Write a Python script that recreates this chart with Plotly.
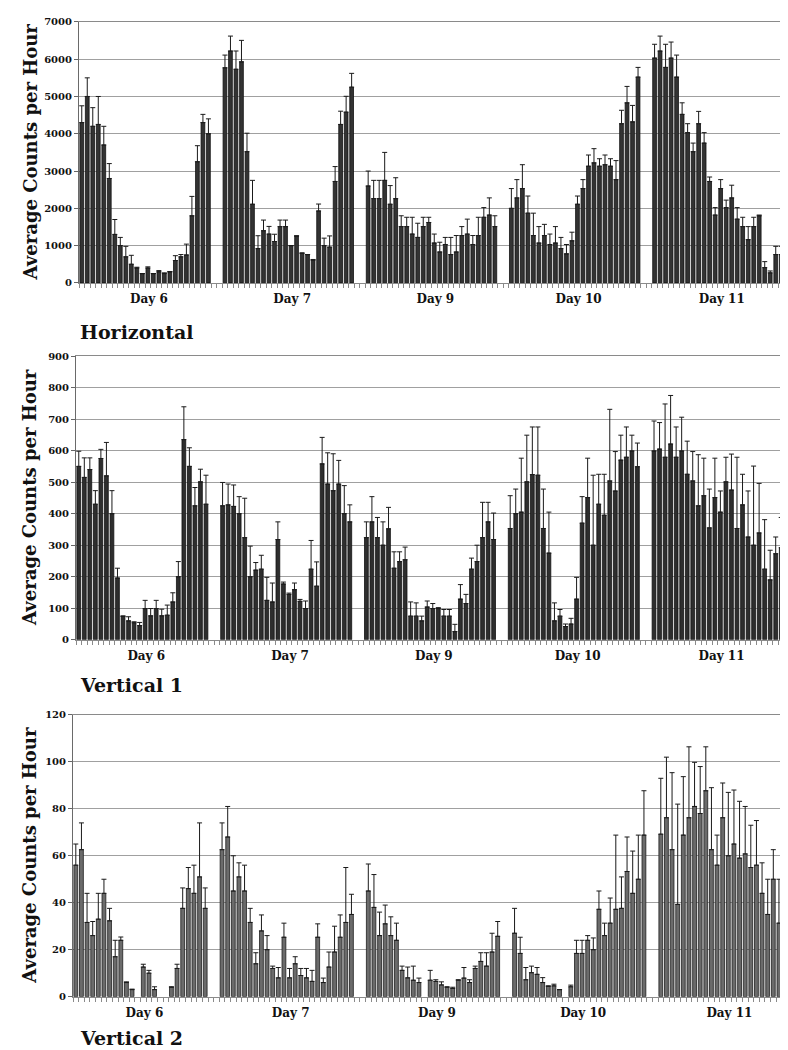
import plotly.graph_objects as go

# ---------------- data ----------------
days = ["Day 6", "Day 7", "Day 9", "Day 10", "Day 11"]
hours_per_day = 24
slots_per_day = 26  # 24 hours + 2 empty slots between days

# Horizontal
horiz_mean = [
    4300, 5000, 4200, 4250, 3700, 2800, 1300, 1000, 700, 500, 400, 250, 400, 250, 300, 250, 300, 600, 700, 750, 1800, 3250, 4300, 4000,
    5770, 6220, 5730, 5930, 3520, 2110, 920, 1400, 1310, 1110, 1510, 1510, 1000, 1260, 800, 760, 610, 1930, 1000, 960, 2720, 4250, 4580, 5250,
    2600, 2260, 2260, 2750, 2110, 2260, 1510, 1510, 1310, 1220, 1510, 1620, 1070, 830, 1030, 760, 830, 1270, 1310, 1030, 1270, 1760, 1820, 1510,
    2000, 2280, 2530, 1870, 1270, 1070, 1270, 1030, 1070, 920, 780, 1130, 2110, 2530, 3130, 3220, 3130, 3170, 3130, 2770, 4270, 4830, 4320, 5520,
    6030, 6220, 5780, 6030, 5520, 4520, 4030, 3520, 4270, 3750, 2720, 1820, 2530, 2020, 2280, 1710, 1510, 1160, 1510, 1800, 410, 270, 760, 760,
]
horiz_err = [
    450, 500, 500, 750, 500, 400, 400, 220, 280, 240, 20, 0, 30, 0, 30, 20, 0, 130, 60, 290, 520, 430, 220, 400,
    340, 400, 490, 575, 495, 640, 345, 285, 205, 195, 175, 175, 0, 0, 0, 0, 18, 185, 200, 300, 400, 355, 425, 370,
    400, 490, 490, 750, 500, 560, 290, 250, 450, 380, 250, 140, 240, 260, 190, 460, 440, 240, 400, 240, 490, 260, 460, 290,
    530, 490, 640, 460, 600, 440, 300, 280, 440, 300, 250, 230, 220, 240, 300, 380, 200, 260, 200, 510, 360, 440, 440, 260,
    370, 400, 620, 430, 590, 310, 240, 230, 330, 280, 120, 200, 240, 200, 340, 310, 250, 350, 250, 20, 160, 50, 220, 220,
]

# Vertical 1
vert1_mean = [
    550, 515, 540, 430, 575, 520, 400, 196, 75, 60, 54, 45, 99, 76, 99, 76, 78, 120, 200, 635, 550, 425, 501, 430,
    425, 428, 423, 400, 324, 200, 221, 224, 125, 120, 318, 177, 144, 159, 122, 99, 224, 170, 558, 494, 473, 494, 400, 374,
    324, 374, 324, 300, 352, 227, 248, 254, 75, 75, 60, 104, 99, 99, 75, 75, 26, 129, 115, 224, 248, 324, 374, 318,
    353, 400, 405, 501, 524, 522, 353, 275, 60, 75, 42, 50, 129, 370, 451, 300, 430, 395, 504, 472, 570, 579, 599, 549,
    599, 605, 579, 621, 579, 599, 525, 504, 425, 457, 355, 451, 405, 501, 475, 353, 428, 326, 300, 339, 224, 190, 273, 292,
]
vert1_err = [
    48, 62, 37, 43, 29, 106, 73, 31, 0, 13, 3, 10, 26, 23, 26, 21, 32, 29, 48, 104, 59, 58, 40, 92,
    74, 66, 68, 54, 125, 97, 24, 44, 73, 60, 56, 6, 4, 21, 6, 24, 91, 77, 84, 99, 117, 75, 89, 54,
    50, 80, 64, 74, 68, 52, 31, 40, 45, 42, 15, 19, 16, 3, 21, 21, 23, 46, 29, 35, 52, 112, 62, 84,
    104, 78, 171, 148, 151, 153, 125, 130, 57, 21, 8, 18, 69, 84, 125, 222, 95, 130, 227, 125, 79, 96, 50, 75,
    95, 84, 169, 154, 96, 107, 105, 93, 162, 119, 123, 125, 67, 78, 114, 226, 97, 146, 251, 157, 157, 94, 53, 96,
]

# Vertical 2 (None = no bar)
vert2_mean = [
    56, 62.6, 31.6, 26, 33, 44, 32.3, 17, 24, 6, 3, None, 12.6, 10, 3, None, None, 4, 12, 37.6, 46, 44, 51, 37.6,
    62.6, 68, 45, 51, 45, 31.6, 14, 28, 20, 12, 8, 25.3, 8, 14, 9, 8, 6.5, 25.3, 6, 12.6, 19, 25.3, 31.6, 35,
    45, 38, 26, 31, 26, 24, 11.2, 8, 7, 6, None, 7, 6.5, 5, 4, 3.5, 7, 7.9, 6, 12, 15, 13, 19, 25.7,
    27, 18.4, 7.2, 10.2, 9.5, 6, 4.4, 4.6, 3, None, 4.2, 18.4, 18.4, 24, 20, 37.2, 26, 31.3, 37.2, 37.6, 53.3, 44, 50, 68.8,
    69.2, 76.2, 62.6, 39.3, 68.8, 76.2, 81, 78, 87.7, 62.6, 56, 76.2, 60, 65, 59, 60.8, 55, 56, 44, 35, 50, 31.3, 29, 31.3,
]
vert2_err = [
    9, 11.4, 12.4, 6, 11, 6, 5.3, 7, 1.4, 0.3, 0.2, 0, 1.2, 1.2, 1.2, 0, 0, 0.2, 1.8, 8.7, 9, 12, 23, 8.7,
    11.4, 13, 15, 6, 11, 6, 4.7, 6.8, 6, 1, 4.4, 6, 4, 3, 3, 4, 4.7, 5.7, 1.9, 6.4, 11, 9.5, 23.4, 8.6,
    11.5, 14, 10, 8, 8, 7.3, 1.8, 4.6, 6, 1.9, 0, 4.2, 0.7, 1.3, 0.2, 0.5, 0.2, 4.5, 1.2, 1, 3.7, 5.7, 8, 6.3,
    10.6, 6.9, 5.2, 2.8, 2.9, 2.1, 0.2, 0.7, 0, 0, 0.7, 5.6, 5.6, 2, 5, 7.8, 5.3, 10.7, 31.6, 13.4, 14.7, 18, 18.8, 18.9,
    23.8, 25.8, 32.8, 42.7, 24.9, 30.2, 18.8, 20, 18.7, 26.4, 12.8, 14.8, 27, 23, 24.2, 20.2, 18, 19, 13, 15, 12.6, 18.7, 16, 18.7,
]

panel_titles = ["Horizontal", "Vertical 1", "Vertical 2"]
y_title = "Average Counts per Hour"
y_ranges = [(0, 7000, 1000), (0, 900, 100), (0, 120, 20)]

# ---------------- build ----------------
x_pos = [d * slots_per_day + h for d in range(len(days)) for h in range(hours_per_day)]
n_slots = (len(days) - 1) * slots_per_day + hours_per_day
day_centers = [d * slots_per_day + 12.2 for d in range(len(days))]
boundaries = [k + 0.5 for k in range(-1, n_slots)]

W, H = 788, 1050
SERIF = "DejaVu Serif"

# panel geometry in pixels: (left, right, top, bottom)
boxes = [(71, 776, 8, 272), (68, 776, 346, 633), (65, 785, 709, 994)]
bar_styles = [("#333333", "#111111"), ("#2e2e2e", "#111111"), ("#6b6b6b", "#1e1e1e")]
series = [(horiz_mean, horiz_err), (vert1_mean, vert1_err), (vert2_mean, vert2_err)]
title_y = [322, 679, 1036]

fig = go.Figure()
layout = dict(
    width=W, height=H,
    margin=dict(l=0, r=0, t=0, b=0),
    paper_bgcolor="white", plot_bgcolor="white",
    showlegend=False,
    annotations=[],
)

for i, ((m, e), (l, r, t, b), (fc, lc)) in enumerate(zip(series, boxes, bar_styles)):
    sfx = "" if i == 0 else str(i + 1)
    fig.add_trace(go.Bar(
        x=x_pos, y=m, width=0.68,
        xaxis="x" + sfx, yaxis="y" + sfx,
        marker=dict(color=fc, line=dict(color=lc, width=0.8)),
        error_y=dict(type="data", array=e, arrayminus=[0] * len(e), symmetric=False,
                     color="#1a1a1a", thickness=1, width=2.5),
    ))
    y0, y1, dt = y_ranges[i]
    layout["xaxis" + sfx] = dict(
        domain=[l / W, r / W], anchor="y" + sfx,
        range=[-0.5, n_slots - 0.5],
        tickmode="array", tickvals=day_centers, ticktext=days,
        ticks="outside", ticklen=5, tickcolor="rgba(0,0,0,0)",
        tickfont=dict(family=SERIF, size=12, color="#111", weight="bold"),
        showgrid=False, zeroline=False,
        showline=True, linecolor="#8a8a8a", linewidth=1, mirror=True,
        minor=dict(tickmode="array", tickvals=boundaries, ticks="outside",
                   ticklen=4, tickcolor="#8a8a8a", showgrid=False),
    )
    layout["yaxis" + sfx] = dict(
        domain=[1 - b / H, 1 - t / H], anchor="x" + sfx,
        range=[y0, y1], tickmode="linear", tick0=0, dtick=dt,
        ticks="outside", ticklen=4, tickcolor="#666",
        tickfont=dict(family=SERIF, size=10, color="#111", weight="bold"),
        showgrid=True, gridcolor="#a0a0a0", gridwidth=1, zeroline=False,
        showline=True, linecolor="#6a6a6a", linewidth=1, mirror=True,
    )
    layout["annotations"].append(dict(
        text=y_title, textangle=-90, xref="paper", yref="paper",
        x=22 / W, y=1 - (t + b) / 2 / H, xanchor="center", yanchor="middle",
        showarrow=False, font=dict(family=SERIF, size=18, color="#111", weight="bold"),
    ))
    layout["annotations"].append(dict(
        text=panel_titles[i], xref="paper", yref="paper",
        x=70 / W, y=1 - title_y[i] / H, xanchor="left", yanchor="middle",
        showarrow=False, font=dict(family=SERIF, size=19, color="#111", weight="bold"),
    ))

fig.update_layout(**layout)
fig.write_html("out.html")
